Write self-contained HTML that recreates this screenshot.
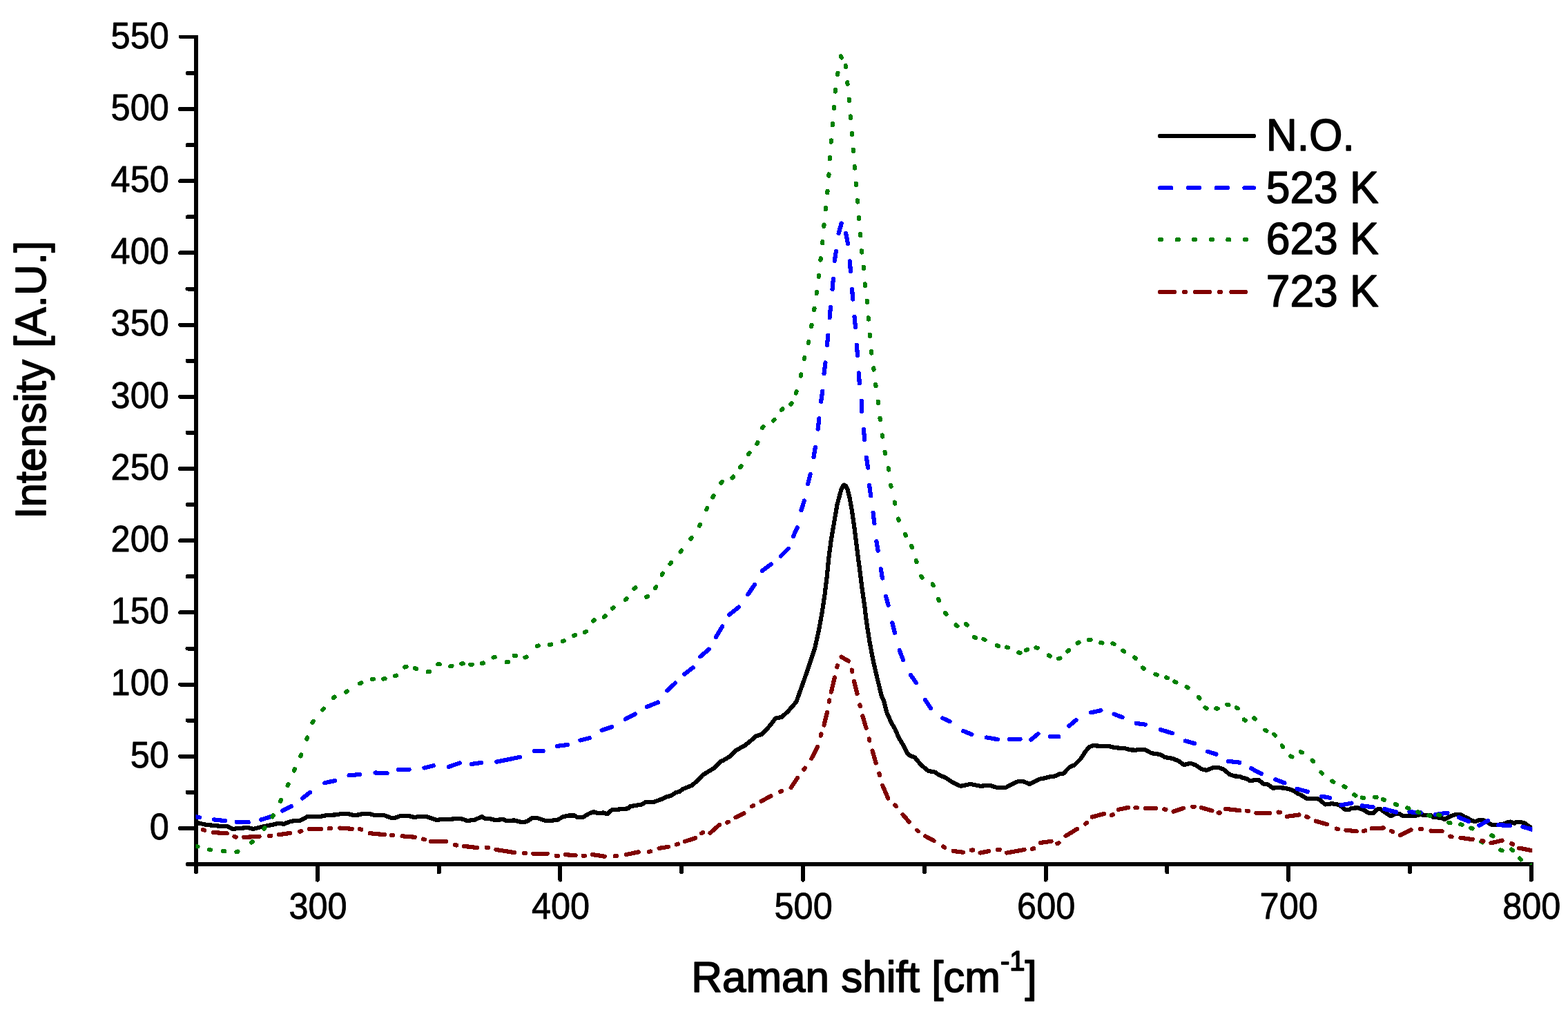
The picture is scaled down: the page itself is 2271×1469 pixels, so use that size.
<!DOCTYPE html>
<html lang="en"><head><meta charset="utf-8"><title>Raman spectra</title>
<style>
html,body{margin:0;padding:0;background:#fff;}
body{width:2271px;height:1469px;overflow:hidden;}
svg{display:block;}
text{font-family:"Liberation Sans",sans-serif;fill:#000;stroke:#000;stroke-width:0.8px;stroke-linejoin:round;}
.tk{font-size:53px;}
.ttl{font-size:62px;stroke-width:1.6px;}
.lg{font-size:63px;stroke-width:1.5px;}
.ax{stroke:#000;stroke-width:6.0;fill:none;stroke-linecap:round;}
.c{fill:none;stroke-width:6.2;stroke-linejoin:round;stroke-linecap:round;}
</style></head><body>
<svg shape-rendering="crispEdges" width="2271" height="1469" viewBox="0 0 2271 1469">
<rect width="2271" height="1469" fill="#fff"/>
<defs><clipPath id="plot"><rect x="283.5" y="0" width="1935.7" height="1469"/></clipPath></defs>
<g class="ax">
<path stroke-linecap="butt" d="M284.1 50.9V1252"/>
<path d="M284.1 1252V1263.3"/>
<path stroke-linecap="butt" d="M284.1 1252H2220.7"/>
<path d="M271.5 1252H284.1"/>
<path stroke-width="5" d="M261.1 53.4H284.1"/>
<path d="M261.1 1199.9H284.1M261.1 1095.7H284.1M261.1 991.5H284.1M261.1 887.4H284.1M261.1 783.2H284.1M261.1 679H284.1M261.1 574.8H284.1M261.1 470.6H284.1M261.1 366.4H284.1M261.1 262.3H284.1M261.1 158.1H284.1M271.5 1147.8H284.1M271.5 1043.6H284.1M271.5 939.5H284.1M271.5 835.3H284.1M271.5 731.1H284.1M271.5 626.9H284.1M271.5 522.7H284.1M271.5 418.5H284.1M271.5 314.4H284.1M271.5 210.2H284.1M271.5 106H284.1M459.9 1252V1274.6M811.4 1252V1274.6M1163 1252V1274.6M1514.6 1252V1274.6M1866.1 1252V1274.6M2217.7 1252V1274.6M635.7 1252V1263.3M987.2 1252V1263.3M1338.8 1252V1263.3M1690.4 1252V1263.3M2041.9 1252V1263.3"/>
</g>
<g clip-path="url(#plot)">
<polyline class="c" stroke="#000" points="283.9,1191.5 297.7,1194.7 315.4,1196.5 329.6,1197.3 336.6,1200.9 350.8,1199.6 359.6,1199.1 366.7,1200.9 379.1,1197.9 395,1194.7 403.9,1192.6 411,1193.8 421.6,1189.7 435.8,1188.5 445.5,1182.8 464.1,1182.8 474.7,1180.9 485.3,1180.5 495.9,1178.8 503,1178.8 511.9,1180.9 518.9,1180.5 526,1178.8 534.9,1178.8 541.9,1180.9 556.1,1180.9 566.7,1185 572,1185 579.1,1182.3 591.5,1181.9 600.4,1184.1 607.4,1182.7 616.3,1182.7 632.2,1188 642.8,1186.7 653.5,1186.7 662.3,1185.8 670.6,1186.7 675.9,1189 686.5,1188 698.1,1183.2 702.5,1185.8 713.1,1186.7 716.6,1188 729,1187.1 732.6,1189 745,1188.5 755.6,1191.2 762.7,1190.3 771.5,1184.6 776.8,1184.6 791,1189.4 806.9,1188 815.8,1183.2 824.6,1181.4 831.7,1181.4 837,1184.4 844.1,1184.1 852.9,1178.8 860,1176.1 865.3,1177.9 874.2,1177.5 879.5,1179.3 886.5,1173.1 895.4,1172.6 909.6,1171.3 913.1,1168.1 929,1165.5 936.1,1161.6 946.7,1161.9 959.1,1157.5 966.2,1154 971.5,1153.1 978.6,1148.3 983.9,1146.9 989.2,1143 1001.6,1138.1 1010.4,1131 1017.5,1123 1024.6,1118.6 1033.5,1113.3 1044.1,1102.7 1047.1,1101.8 1057.7,1095.6 1066.5,1086.7 1078.1,1080.5 1086,1074.3 1094.9,1066.4 1103.7,1063.7 1114.3,1052.2 1123.2,1040.7 1132,1038.9 1140.9,1031 1153.3,1016.8 1162.8,990.3 1171.8,964.5 1180.3,938.6 1186,912.7 1190.7,886.9 1194.6,861 1197.7,835.2 1200.2,809.3 1203.6,783.4 1208,757.6 1212.4,731.7 1215.8,718.8 1218.8,707.9 1221.1,703.8 1222.8,702.6 1225,703.8 1227.3,708.2 1230.8,722.4 1234,740.1 1236.5,757.8 1238.2,770 1241.1,794.2 1244.6,820.8 1248.1,849.1 1251.7,873.9 1255.2,902.2 1259.6,930.5 1265,958.8 1271.2,985.4 1277.3,1010 1279.8,1014.2 1284.2,1031.9 1291.3,1047.8 1296.6,1056.6 1301.9,1069 1307.3,1077.9 1313.5,1090.3 1317.9,1094.7 1325,1097.3 1333.8,1108 1344.4,1116.8 1354.2,1118.6 1360.4,1123 1369.2,1126.5 1379.8,1133.6 1391.3,1138.9 1405.5,1135.9 1418.8,1138.6 1420,1138.9 1427.1,1138.1 1435.9,1138.4 1443,1140.7 1457.2,1140.7 1466,1135.9 1474.9,1131.9 1481.9,1131.9 1490.8,1135.9 1497.9,1132.4 1505,1128.8 1513.8,1127.1 1520.9,1125.3 1528,1124.4 1535,1121.2 1540.4,1120.4 1549.2,1111.2 1556.3,1108.3 1565.1,1099.5 1572.2,1088.5 1577.5,1082.3 1582.8,1080.2 1597,1080.9 1607.6,1081.4 1614.7,1083.2 1628.8,1084.1 1637.7,1086.4 1644.8,1086.7 1651.9,1085.8 1658.9,1086.4 1667.8,1091.2 1680.2,1092.9 1687.3,1097 1697.9,1098.8 1706.7,1102.3 1714.7,1108 1724.4,1105.8 1731.5,1108.3 1740.4,1114.2 1747.4,1115.9 1756.3,1112.4 1765.1,1111.9 1772.2,1114.7 1781.1,1122.1 1788.1,1124.4 1795.2,1124.8 1800,1127.1 1805.3,1127.8 1810.6,1131.3 1817.7,1130.1 1823,1130.1 1831,1136.3 1835.4,1135.9 1843.4,1141.6 1851.3,1141.2 1860.2,1141.6 1870.8,1144.2 1879.6,1149.6 1885,1152.2 1892.9,1157.2 1900.9,1156.6 1909.7,1157.5 1919.5,1165.5 1929.2,1164.2 1939.8,1166 1948.7,1173.1 1954,1173.1 1957.5,1170.8 1966.4,1170.3 1975.2,1173.5 1983.2,1178.4 1989.4,1177.9 1994.7,1172.6 1999.1,1172 2005.3,1176.6 2014.2,1182.3 2021.2,1179.1 2026.5,1178.8 2031.9,1182.3 2047.8,1182.3 2056.6,1180.2 2072.6,1181.4 2076.3,1184 2086.9,1184.7 2092.2,1187.1 2101.1,1182.2 2108.2,1180 2115.2,1180 2120.6,1183.1 2125.9,1185.3 2131.2,1188.8 2136.5,1190.2 2142.7,1188 2148.9,1188.4 2154.2,1191.1 2160.4,1195 2168.3,1195 2179,1193.3 2182.5,1191.5 2187.8,1190.6 2193.1,1192.8 2196.7,1190.6 2201.1,1190.6 2208.2,1192.4 2213.5,1196.4 2219,1199.9"/>
<path class="c" stroke="#0000ff" d="M284.3 1183.4L288.9 1184.2M310 1187.4L326.1 1189.2M342.8 1190.8L359.7 1191.1M378.1 1187.5L393.4 1182.8M409 1174.5L421.8 1168M438 1156.5L448.9 1147.9M470.2 1134.2L485.4 1131M505.6 1123.4L520.8 1121.9M543.6 1119.5L560.6 1120.3M577.3 1115L592.5 1115M614.4 1112.5L627.9 1109.2M649.7 1110.9L666 1105.3M682.9 1106.9L697.3 1105M719.2 1103.7L753 1096.8M773.6 1088L786.6 1088M806.8 1080.9L822 1079M840.4 1072.5L853.9 1069.1M871.7 1057.9L886.3 1053.1M905.8 1041.7L920.1 1034.4M936.8 1024.1L953.1 1017.5M1340 1013.8L1347.9 1026M1365.4 1040.5L1375.6 1045.3M1395.2 1059L1407.4 1064M1428.8 1068.4L1444.9 1071.1M1462.1 1070.8L1477.6 1070.8M1493.5 1071.5L1503.6 1063M1520.8 1066.9L1533.3 1067.2M1548.4 1051.7L1558.5 1043.2M1580.1 1032.4L1594.4 1029.2M1613.6 1034.6L1625.5 1039.2M1645.6 1048L1659 1049.7M1680.9 1057.1L1698 1062.3M1716.9 1073.4L1730.2 1077.1M1749 1088.7L1761.4 1092.7M1778.9 1102.8L1795.3 1104.6M1812.1 1113.2L1826.8 1121M1847.3 1129.3L1860.4 1134.3M1878.6 1142.9L1893.9 1147M1914.1 1153.7L1926.1 1155.8M1942.4 1166.4L1957.6 1163.5M1972.5 1167.4L1988.6 1169.2M2005.2 1172.1L2022.2 1176.6M2041.5 1176.2L2057.6 1177.4M2078.7 1180L2096.5 1177.7M2112.7 1184L2126.9 1190M2142.3 1195.8L2155.2 1189M2170.4 1195.1L2186.7 1196.1M2205.4 1197.7L2218.9 1201.7M966.4 1000.4L978.1 989.5M991.3 976.7L1003.6 967.2M1014.2 951.3L1026.7 940.7M1036.8 923.1L1046.2 907.5M1056.2 890.5L1070 879.6M1083.4 861.2L1093 846.9M1103.7 827.1L1116.9 817.3M1130.9 805.7L1141.8 794.8M1149 777L1154.7 764.2M1160.5 739.3L1164.8 725.4M1170.1 701.3L1173.7 686.9M1178.4 662.3L1180.9 648M1184.6 621.6L1186.4 606.4M1189.1 581.8L1191.3 566.6M1193.5 541.1L1195.5 525.5M1243.8 540.4L1244.8 555.2M1247.7 580.7L1248.1 596.3M1250.9 621.8L1252.2 637.2M1254.9 662.7L1257.1 677.7M1259 702.8L1261.2 718.4M1264.6 742.7L1266.4 758.2M1198 499.9L1199.2 485.6M1201.6 460.1L1203 444.9M1205.5 419L1206.9 404.2M1208.8 378.1L1210.9 364M1214.6 338L1218.7 323.6M1225.1 337.8L1228 353M1230.8 378.5L1231.9 392.8M1234 418.7L1235.3 433.5M1237.5 458.7L1239 474.2M1240.8 499.7L1242 514.9M1269.3 784.1L1271.7 797.9M1275.8 824.2L1278 837.7M1283.1 864L1286.6 877M1292.3 902.4L1295.9 916.8M1302.7 942.2L1308.1 956M1319 977.9L1326.8 989"/>
<path class="c" stroke="#008000" stroke-width="6.3" d="M284.2 1225.9l2.2 0.6M302.8 1230.8l2.3 0.4M325.4 1233.4l-2.3 -0.2M342.3 1234.3l2.2 -0.7M364.1 1220.7l1.7 -1.5M383.7 1199.1l-1.4 1.8M394.5 1183.3l1.2 -2M407.1 1158.8l-1 2.1M417.6 1136.1l-0.9 2.1M426.8 1114.3l-0.9 2.1M435.3 1095.4l0.8 -2.1M445 1068.5l-0.8 2.2M453.7 1044.9l-1.1 2M468.7 1026.7l-1.5 1.7M484.6 1009.7l-1.8 1.4M500.9 1002.5l2 -1.1M523.3 989.2l-2.1 1M541.1 983.7l-2.3 0.4M555.3 983.5l2.3 -0.3M572 979.3l2.2 -0.7M588.5 965.8l-2.2 0.7M600.8 968.3l2.3 0.5M619.7 973.4l2.3 -0.2M636.7 962.2l-2.3 0.2M654.4 964.7l-2.2 0.5M670.7 961.3l-2.3 0.2M681.3 962.7l2.3 -0M697.8 961.2l2.2 -0.7M714.6 952.5l2.2 -0.5M736 959l-2.3 0.3M747 949.7l-2.3 0M760.5 952.5l2.1 -0.9M780 935.4l-2.2 0.7M796 934l2.3 -0.4M816.8 928.4l-2.1 0.8M833.3 920l-2.1 0.9M1737.4 1011.6l-1.5 -1.7M1747.5 1026.4l-1.9 -1.3M1761.3 1026.5l2.3 0M1779.5 1021.3l-2.2 -0.6M1790.9 1025.2l2 1.1M1801.8 1042.5l1.9 1.3M1818 1041.7l-1.8 -1.4M1834.4 1058.8l-2.1 -1M1845.3 1063.9l1.7 1.6M1856.7 1080l1.4 1.8M1869.4 1095.5l2.1 1M1885.9 1090.3l-2.1 -1M1900.6 1101.6l1.6 1.6M1915 1120.4l-1.6 -1.6M1931.4 1132.8l-2 -1.2M1946.5 1139.2l2 1.2M1963.3 1152.5l-2 -1.2M1972.8 1155.6l2.3 0.2M1993.5 1155l-2.3 -0.2M2002.8 1158l2.2 0.8M2023.2 1165.9l-2.2 -0.8M2040.4 1171.2l-2.2 -0.8M2053.3 1176.3l2.2 0.8M2069.2 1181.4l2.2 0.7M2083.2 1180.4l2.2 0.6M2100.4 1192.3l-2.2 -0.6M2117.5 1194.8l-2.2 -0.6M2130.4 1199.6l2.2 0.8M2160.4 1210.3l2 1.1M2147.2 1220.3l-1.9 -1.2M2175.5 1232.3l-2.1 -0.9M2190.9 1232.1l-1.8 -1.5M2202.8 1245.3l-1.6 -1.7M847 916l1.9 -1.2M860.8 898.3l-1.9 1.2M876.6 892.3l-1.7 1.5M886.9 881.4l1.8 -1.4M907.6 867.2l-1.7 1.5M918.5 852.7l1.9 -1.3M938.2 864l-2.1 0.8M948.9 852.1l1.3 -1.9M959.9 830.7l-1.2 2M970.6 817l1.5 -1.8M985.6 799.3l1.5 -1.8M1001.6 778.9l-1.3 1.9M1013 761.7l1.1 -2M1024.2 736l-1 2.1M1032.4 720.4l1.1 -2M1044.2 699.7l1.6 -1.7M1062.2 690.6l-1.6 1.7M1072.1 677l1.3 -1.9M1085.4 656l-1.3 1.9M1096.3 642.9l1.1 -2M1104.1 619.8l1.4 -1.9M1119.9 609.5l1.7 -1.6M1133.4 592.4l-1.7 1.6M1146.6 584l-1.4 1.8M1152.9 569.5l0.7 -2.2M1160.3 542.5l-0.5 2.2M1165.3 518l-0.5 2.2M1262.3 511.6l-0.3 -2.3M1265.6 535.6l-0.3 -2.3M1268.2 557l0.3 2.3M1272 584.1l-0.3 -2.3M1274.5 605.9l0.3 2.3M1278.2 632.7l-0.3 -2.3M1282 657.1l-0.4 -2.3M1286.7 678.2l0.4 2.3M1290.2 702.7l0.4 2.3M1296.2 729.7l-0.5 -2.2M1301.8 753.8l-0.7 -2.2M1170.7 497.1l0.5 -2.2M1175.6 470.7l-0.4 2.3M1179.5 446.8l-0.4 2.3M1182.7 425.2l0.3 -2.3M1185.7 401l0.3 -2.3M1188.8 374.3l-0.3 2.3M1191.2 352.3l0.2 -2.3M1193.3 327.9l0.2 -2.3M1195.9 301l-0.2 2.3M1198.3 279.2l0.2 -2.3M1240 268.1l-0.2 -2.3M1241.9 290.3l0.2 2.3M1244 317.3l-0.2 -2.3M1245.9 339l0.2 2.3M1248.1 365.6l-0.2 -2.3M1250.7 386.8l0.2 2.3M1253 413.7l-0.2 -2.3M1255.9 438.1l-0.2 -2.3M1257.8 460.3l0.2 2.3M1259.9 487.2l-0.2 -2.3M1200.3 254.8l0.2 -2.3M1202 227.9l-0.2 2.3M1203.8 205.7l0.2 -2.3M1205.9 179l-0.2 2.3M1207.9 157.1l0.2 -2.3M1209.8 132.6l0.2 -2.3M1213.1 108l0.4 -2.3M1217.9 81.4l1 2.1M1224.7 95l0.5 2.2M1227.3 119.4l0.2 2.3M1229.8 143.8l0.2 2.3M1232 170.7l-0.2 -2.3M1234.1 195.1l-0.2 -2.3M1235.8 216.7l0.2 2.3M1237.8 241.2l0.2 2.3M1312 775.8l-1 -2.1M1319.9 790.9l0.9 2.1M1326.9 812.1l0.7 2.2M1334.3 834.8l1.1 2M1351.9 848.3l-1.1 -2M1359.8 870l-0.9 -2.1M1369.1 888l1.3 1.9M1384.6 905.4l1.8 1.5M1401 905.5l-1.9 -1.3M1412.9 924l-2 -1M1424.4 926.1l2.2 0.8M1446 935.9l-2.2 -0.7M1458 937.6l2.2 0.7M1475.3 945.4l2.3 0.4M1486 941.8l2.2 -0.6M1502.7 938.7l-2.3 -0.4M1520.9 950.5l-2.1 -1M1533.2 954.2l2.2 -0.6M1546.3 943.6l1.8 -1.5M1562.5 930.6l-2 1M1577.2 926.9l2.3 0M1596.4 931.5l-2.3 -0.4M1611.5 932.2l2.2 0.8M1626.3 942.6l1.9 1.3M1644.8 954l-1.7 -1.5M1655 967.3l1.8 1.4M1675.6 977.6l-2.1 -0.9M1691 982.2l-2.1 -0.8M1701.3 987.5l2.1 1M1718.7 995.1l1.9 1.3"/>
<path fill="#008000" d="M2215 1252.6L2219 1249.4V1252.6Z"/>
<path class="c" stroke="#800000" d="M309.1 1206L328.7 1207.3M353.4 1212.9L375.6 1211.9M403.8 1209.2L419.9 1207M448.1 1201.2L465 1200.9M492.3 1199.6L509.8 1200.8M535.7 1207.2L557.1 1209.2M582.6 1211.3L600.8 1212.8M624.2 1219.1L646.1 1219.1M672.3 1225.9L691.1 1228.1M718.3 1230.9L745 1235.1M772.3 1236.8L792.8 1236.8M819.2 1238.2L833.5 1239.2M858.1 1238L876 1240.8M906.8 1238.1L924.7 1234.3M954.6 1228.9L968.1 1226.8M992.1 1219L1007.1 1214.1M1028.5 1206.8L1041.9 1194.9M1065.4 1184.2L1077.4 1178.3M1102.6 1160.6L1116.4 1153.4M1145.7 1141.1L1155 1127.1M1175.3 1099L1184 1082M1193.5 1050.6L1198 1031.7M1249.3 1037L1254.6 1055M1263.5 1087.5L1268.7 1105.4M1278.2 1137.8L1286.2 1156.5M1307.5 1180L1316.8 1190.8M1340.3 1211.4L1352.7 1218.1M1380.6 1232.9L1394.9 1234.7M1419.5 1235.6L1432.1 1233.1M1458 1235.6L1483.8 1230.9M1506.6 1221L1522.7 1218.8M1543.6 1211L1560.1 1200.9M1581.8 1183.6L1599.2 1178.9M1619.9 1172.8L1634.3 1169.9M1658.9 1170.8L1674.1 1171.3M1699.5 1175.6L1714 1170.8M1739.7 1170L1755.5 1174.4M1775.1 1171.9L1795.3 1174.1M1819.4 1177.9L1839 1177.9M1863.6 1182.9L1881.5 1180.4M1905.7 1189.5L1921.9 1194.2M1949.5 1202.8L1964.7 1204.3M1986.7 1200.3L2003.6 1199.5M2028.1 1209.9L2043.6 1202.2M2072.5 1203.6L2088.6 1204.3M2115.5 1213.8L2132.7 1216.1M2159.5 1221.3L2175.7 1217.6M2200.1 1228.6L2218.9 1232.3M1203.9 1002.5L1208.9 981.4M1218.6 951.7L1229 957.7M1237 987L1241.5 1005"/>
<path class="c" stroke="#800000" stroke-width="6.6" d="M293.9 1202l2.3 0.7M341.7 1212.7l-2.3 -0.6M392.3 1210.9l-2.4 0.2M436.4 1204.2l-2.3 0.5M476.7 1200.4l2.4 -0.1M521 1201.1l2.3 0.6M566.8 1210l2.4 0.2M615.1 1216.3l-2.3 -0.7M661.2 1224.6l-2.3 -0.7M707.2 1227.9l-2.4 -0.2M761.2 1236l-2.4 -0.1M808.1 1239.9l-2.4 -0.1M844.6 1239.9l2.4 -0.2M893.1 1240.1l-2.4 0.2M942.1 1233.4l-2.4 0.4M982 1222.6l-2.3 0.8M1016.1 1207.3l2.1 -1.2M1052.9 1191.6l2.2 -0.9M1090.9 1166.9l-1.9 1.4M1132.3 1146l-2.2 0.8M1164.4 1114.6l1.4 -1.9M1189.4 1063.5l-0.7 2.3M1201.3 1014.4l-0.5 2.4M1245.9 1023.3l-0.6 -2.3M1259.4 1072.8l-0.6 -2.3M1274 1122.9l-0.7 -2.3M1296.2 1166.4l1.6 1.7M1329.9 1204.3l-1.8 -1.6M1368.1 1227.7l-2.1 -1.2M1406.9 1231.6l2.4 -0.1M1445.3 1231l2.4 -0.1M1494.9 1229.8l2.4 -0.5M1533.5 1221.2l-2.2 0.9M1574 1191.8l-1.8 1.6M1612 1180.2l-2.3 0.6M1644.5 1170.2l2.4 0.1M1688.4 1172.8l-2.3 -0.5M1729.7 1168.6l-2.4 0.1M1764.5 1177.5l2.4 -0M1805.7 1174.7l2.4 0.4M1851.5 1176.6l2.4 0.1M1892.3 1183.1l2.2 0.9M1938 1201.3l-2.3 -0.7M1977.3 1203.3l-2.3 0.5M2017.3 1205l-2.1 -1.1M2056.9 1200.8l2.4 0.2M2102.6 1212.1l-2.3 -0.5M2148.6 1218.6l-2.3 -0.5M2191.2 1223.3l-2.1 -1.1M1212.3 966.5l0.6 -2.3M1233.7 970.6l0.5 2.3"/>
</g>
<text class="tk" transform="translate(244.8 1215.7) scale(0.952 1.0)" text-anchor="end">0</text><text class="tk" transform="translate(244.8 1111.5) scale(0.952 1.0)" text-anchor="end">50</text><text class="tk" transform="translate(244.8 1007.3) scale(0.952 1.0)" text-anchor="end">100</text><text class="tk" transform="translate(244.8 903.2) scale(0.952 1.0)" text-anchor="end">150</text><text class="tk" transform="translate(244.8 799) scale(0.952 1.0)" text-anchor="end">200</text><text class="tk" transform="translate(244.8 694.8) scale(0.952 1.0)" text-anchor="end">250</text><text class="tk" transform="translate(244.8 590.6) scale(0.952 1.0)" text-anchor="end">300</text><text class="tk" transform="translate(244.8 486.4) scale(0.952 1.0)" text-anchor="end">350</text><text class="tk" transform="translate(244.8 382.2) scale(0.952 1.0)" text-anchor="end">400</text><text class="tk" transform="translate(244.8 278.1) scale(0.952 1.0)" text-anchor="end">450</text><text class="tk" transform="translate(244.8 173.9) scale(0.952 1.0)" text-anchor="end">500</text><text class="tk" transform="translate(244.8 69.7) scale(0.952 1.0)" text-anchor="end">550</text>
<text class="tk" transform="translate(460.5 1330.8) scale(0.952 1.0)" text-anchor="middle">300</text><text class="tk" transform="translate(812 1330.8) scale(0.952 1.0)" text-anchor="middle">400</text><text class="tk" transform="translate(1163.6 1330.8) scale(0.952 1.0)" text-anchor="middle">500</text><text class="tk" transform="translate(1515.2 1330.8) scale(0.952 1.0)" text-anchor="middle">600</text><text class="tk" transform="translate(1866.7 1330.8) scale(0.952 1.0)" text-anchor="middle">700</text><text class="tk" transform="translate(2218.3 1330.8) scale(0.952 1.0)" text-anchor="middle">800</text>
<text class="ttl" transform="translate(1251.5 1436.8) scale(1 1.03)" text-anchor="middle">Raman shift [cm<tspan font-size="40" dy="-30">-1</tspan><tspan dy="30">]</tspan></text>
<text class="ttl" transform="translate(65.8 550.3) rotate(-90) scale(1 1.02)" text-anchor="middle">Intensity [A.U.]</text>
<path class="c" stroke="#000" d="M1680.1 196.8H1815.9"/>
<path class="c" stroke="#0000ff" d="M1680.1 272.3L1696.2 272.3M1721 272.3L1737.1 272.3M1761.9 272.3L1778 272.3M1802.5 272.3L1815.9 272.3"/>
<path class="c" stroke="#008000" d="M1680.1 347.1L1682.2 347.1M1704.6 347.1L1706.8 347.1M1729.2 347.1L1731.3 347.1M1753.8 347.1L1755.9 347.1M1778.3 347.1L1780.4 347.1M1802.8 347.1L1805 347.1"/>
<path class="c" stroke="#800000" d="M1680.1 423L1700.7 423M1731.2 423L1751.8 423M1783.5 423L1804.1 423M1714.9 423L1716.7 423M1766 423L1767.8 423"/>
<text class="lg" transform="translate(1833.8 218.0) scale(0.989 1.025)">N.O.</text>
<text class="lg" transform="translate(1833.8 293.5) scale(0.989 1.025)">523 K</text>
<text class="lg" transform="translate(1833.8 368.3) scale(0.989 1.025)">623 K</text>
<text class="lg" transform="translate(1833.8 444.2) scale(0.989 1.025)">723 K</text>
</svg>
</body></html>
